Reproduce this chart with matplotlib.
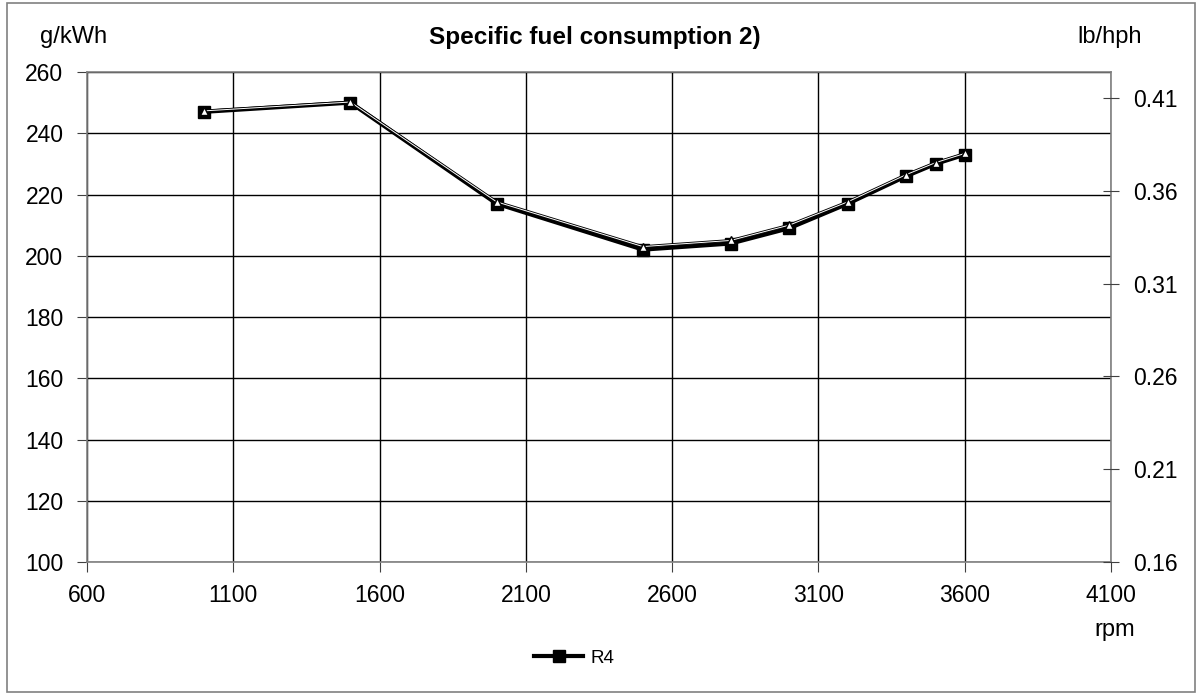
import matplotlib.pyplot as plt
from matplotlib.patches import Rectangle

plt.rcParams['font.family'] = ['Liberation Sans', 'DejaVu Sans']

rpm = [1000, 1500, 2000, 2500, 2800, 3000, 3200, 3400, 3500, 3600]
sfc_r4 = [247, 250, 217, 202, 204, 209, 217, 226, 230, 233]
sfc_tri = [247.3, 250.2, 217.6, 203.0, 205.0, 210.0, 217.6, 226.5, 230.4, 233.4]
x_ticks = [600, 1100, 1600, 2100, 2600, 3100, 3600, 4100]
y_ticks = [100, 120, 140, 160, 180, 200, 220, 240, 260]
y2_ticks = [0.16, 0.21, 0.26, 0.31, 0.36, 0.41]

fig = plt.figure(figsize=(11.97, 6.93), dpi=100)
ax = fig.add_axes([0.0727, 0.189, 0.8555, 0.7071])

ax.plot(rpm, sfc_r4, color='black', linewidth=3, marker='s', markersize=8,
        markerfacecolor='black', markeredgecolor='black', label='R4', zorder=3)
ax.plot(rpm, sfc_tri, color='black', linewidth=2.0, zorder=4)
ax.plot(rpm, sfc_tri, color='white', linewidth=0.7, marker='^', markersize=6,
        markerfacecolor='white', markeredgecolor='black', markeredgewidth=1.0, zorder=5)

ax.set_xlim(600, 4100)
ax.set_ylim(100, 260)
ax.set_xticks(x_ticks)
ax.set_yticks(y_ticks)
ax.grid(True, color='black', linewidth=1.0)
ax.set_axisbelow(True)
for s in ax.spines.values():
    s.set_color('#808080')
    s.set_linewidth(1.2)
ax.tick_params(axis='both', labelsize=16.5, direction='out', length=7, color='#404040')
ax.tick_params(axis='x', pad=9)
ax.tick_params(axis='y', pad=10)

ax2 = ax.twinx()
ax2.set_ylim(0.16, 0.16 + 0.25 * 490 / 464)
ax2.set_yticks(y2_ticks)
ax2.set_yticklabels([f'{v:.2f}' for v in y2_ticks])
ax2.tick_params(axis='y', labelsize=16.5, direction='inout', length=12, color='#404040', pad=10)
for s in ax2.spines.values():
    s.set_visible(False)

fig.text(0.497, 0.9466, 'Specific fuel consumption 2)', ha='center', va='center',
         fontsize=17.5, fontweight='bold')
fig.text(0.0618, 0.9466, 'g/kWh', ha='center', va='center', fontsize=17)
fig.text(0.927, 0.9466, 'lb/hph', ha='center', va='center', fontsize=17)
fig.text(0.9315, 0.091, 'rpm', ha='center', va='center', fontsize=17)

fig.legend(loc='center', bbox_to_anchor=(0.48, 0.0505), frameon=False, fontsize=13.5,
           handlelength=2.6, handletextpad=0.4)

fig.patches.append(Rectangle((0.006, 0.002), 0.992, 0.994, transform=fig.transFigure,
                             fill=False, edgecolor='#808080', linewidth=1.2))

fig.savefig('out.png', dpi=100)
